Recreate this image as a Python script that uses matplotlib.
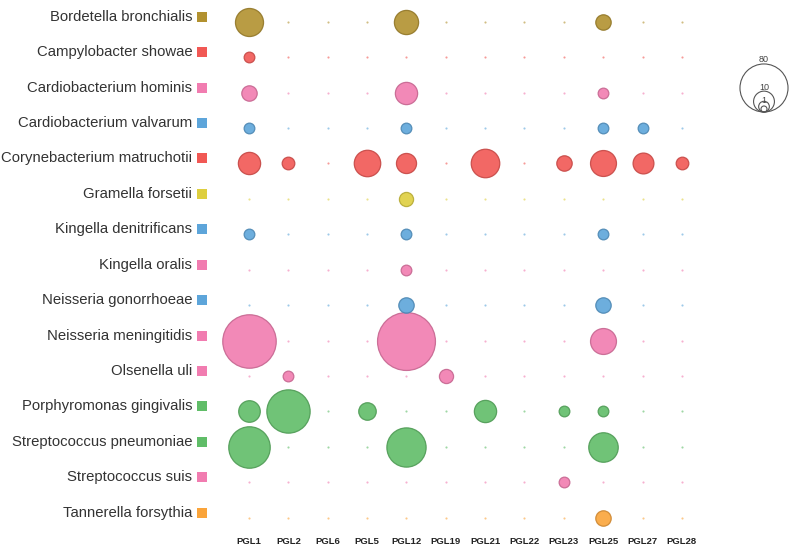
import numpy as np
import matplotlib
matplotlib.use("Agg")
import matplotlib.pyplot as plt
import matplotlib.transforms as mtransforms

species = [
    "Bordetella bronchialis", "Campylobacter showae", "Cardiobacterium hominis",
    "Cardiobacterium valvarum", "Corynebacterium matruchotii", "Gramella forsetii",
    "Kingella denitrificans", "Kingella oralis", "Neisseria gonorrhoeae",
    "Neisseria meningitidis", "Olsenella uli", "Porphyromonas gingivalis",
    "Streptococcus pneumoniae", "Streptococcus suis", "Tannerella forsythia",
]
pgls = ["PGL1", "PGL2", "PGL6", "PGL5", "PGL12", "PGL19", "PGL21",
        "PGL22", "PGL23", "PGL25", "PGL27", "PGL28"]

# counts per species (rows) and PGL (columns)
counts = [
    [22, 0, 0, 0, 15, 0, 0, 0, 0, 4, 0, 0],
    [1, 0, 0, 0, 0, 0, 0, 0, 0, 0, 0, 0],
    [4, 0, 0, 0, 12, 0, 0, 0, 0, 1, 0, 0],
    [1, 0, 0, 0, 1, 0, 0, 0, 0, 1, 1, 0],
    [12, 2, 0, 19, 9, 0, 23, 0, 4, 18, 10, 2],
    [0, 0, 0, 0, 3, 0, 0, 0, 0, 0, 0, 0],
    [1, 0, 0, 0, 1, 0, 0, 0, 0, 1, 0, 0],
    [0, 0, 0, 0, 1, 0, 0, 0, 0, 0, 0, 0],
    [0, 0, 0, 0, 4, 0, 0, 0, 0, 4, 0, 0],
    [102, 0, 0, 0, 122, 0, 0, 0, 0, 18, 0, 0],
    [0, 1, 0, 0, 0, 3, 0, 0, 0, 0, 0, 0],
    [11, 63, 0, 6, 0, 0, 12, 0, 1, 1, 0, 0],
    [57, 0, 0, 0, 50, 0, 0, 0, 0, 25, 0, 0],
    [0, 0, 0, 0, 0, 0, 0, 0, 1, 0, 0, 0],
    [0, 0, 0, 0, 0, 0, 0, 0, 0, 4, 0, 0],
]
colors = ["#B2912F", "#F15854", "#F17CB0", "#5DA5DA", "#F15854", "#DECF3F",
          "#5DA5DA", "#F17CB0", "#5DA5DA", "#F17CB0", "#F17CB0", "#60BD68",
          "#60BD68", "#F17CB0", "#FAA43A"]
legend_values = [80, 10, 1, 0]

DPI = 100


def radius_px(v):
    return 3 + 2.35 * np.sqrt(v)


def area_pt(r):
    return (2 * r * 72 / DPI) ** 2


def darker(c, f=0.82):
    rgb = np.array(matplotlib.colors.to_rgb(c))
    return tuple(rgb * f)


fig = plt.figure(figsize=(8, 5.47), dpi=DPI)
ax = fig.add_axes([0.262, 0.0212, 0.6396, 0.9715])
ax.set_xlim(-1, 12)
ax.set_ylim(14.5, -0.5)

for i, row in enumerate(counts):
    c = colors[i]
    for j, v in enumerate(row):
        if v > 0:
            ax.scatter(j, i, s=area_pt(radius_px(v)), color=c, alpha=0.9,
                       edgecolors=darker(c), linewidths=0.9, zorder=3 + 1 / v,
                       clip_on=False)
        else:
            ax.scatter(j, i, s=2.4, color=c, alpha=0.6, linewidths=0,
                       zorder=2, clip_on=False)

# row labels with colour squares
lab_off = mtransforms.ScaledTranslation(0, 3.6 / 72, fig.dpi_scale_trans)
for i, name in enumerate(species):
    ax.text(-1.44, i, name, ha="right", va="center", fontsize=10.7,
            family="Liberation Sans", color="#333333",
            transform=ax.transData + lab_off)
    ax.scatter(-1.19, i, s=62, marker="s", color=colors[i], linewidths=0,
               clip_on=False, transform=ax.transData + lab_off)

ax.set_yticks([])
ax.set_xticks(range(len(pgls)))
ax.set_xticklabels(pgls, fontsize=6.8, fontweight="bold",
                   family="Liberation Sans", color="#222222")
ax.tick_params(axis="x", length=0, pad=1.5)
for sp in ax.spines.values():
    sp.set_visible(False)

# size legend (top right), circles sharing a bottom point
lx, lbottom = 764, 112
for v in legend_values:
    r = radius_px(v)
    cx, cy = lx / 800, 1 - (lbottom - r) / 547
    circ = matplotlib.patches.Ellipse((cx, cy), 2 * r / 800, 2 * r / 547,
                                      transform=fig.transFigure, fill=False,
                                      edgecolor="#555555", linewidth=0.8)
    fig.add_artist(circ)
    if v >= 10:
        ty = lbottom - 2 * r - 4
    elif v > 0:
        ty = lbottom - 2 * r - 0.5
    else:
        continue
    fig.text(cx, 1 - ty / 547, str(v), ha="center", va="center",
             fontsize=6.5, color="#444444", family="Liberation Sans")

fig.savefig("out.png", dpi=DPI)
